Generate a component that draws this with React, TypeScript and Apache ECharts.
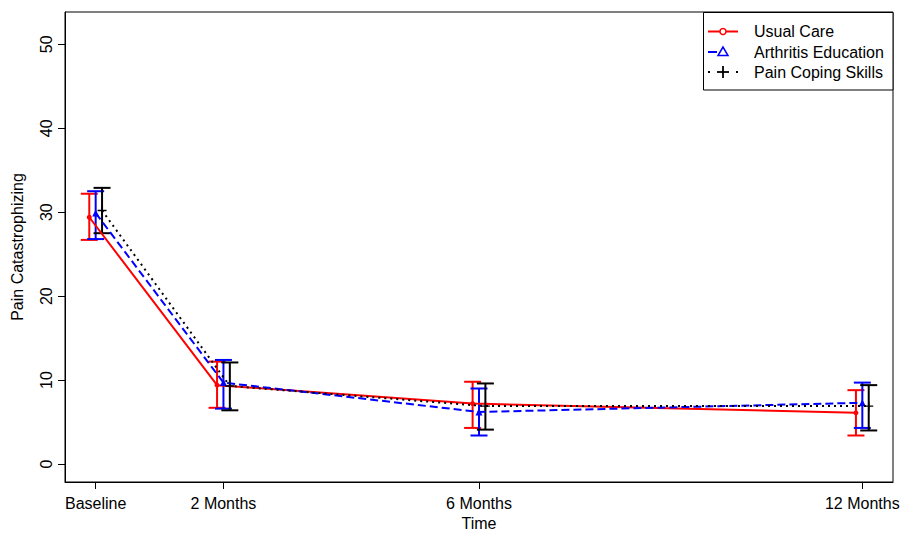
import React, { useEffect, useRef } from "react";
import * as echarts from "echarts";

// ---- data ----
const timeLabels = ["Baseline", "2 Months", "6 Months", "12 Months"];
const timeMonths = [0, 2, 6, 12];
const yTicks = [0, 10, 20, 30, 40, 50];

const groupNames = ["Usual Care", "Arthritis Education", "Pain Coping Skills"];

const usualMean = [29.4, 9.4, 7.2, 6.1];
const usualLow = [26.7, 6.7, 4.3, 3.4];
const usualHigh = [32.2, 12.2, 9.8, 8.8];

const eduMean = [29.9, 9.7, 6.2, 7.3];
const eduLow = [26.8, 6.6, 3.4, 4.3];
const eduHigh = [32.5, 12.4, 9.0, 9.7];

const copingMean = [30.2, 9.3, 6.9, 6.9];
const copingLow = [27.5, 6.4, 4.1, 4.0];
const copingHigh = [32.9, 12.1, 9.6, 9.4];

const FONT = "'Liberation Sans', Arial, sans-serif";
const FS = 16;

const PLUS_PATH =
  "path://M-1,-0.16H-0.16V-1H0.16V-0.16H1V0.16H0.16V1H-0.16V0.16H-1Z";

const groups = [
  {
    name: groupNames[0],
    mean: usualMean,
    low: usualLow,
    high: usualHigh,
    color: "#ff0000",
    dodge: -0.1,
    lineType: "solid" as any,
    symbol: "circle",
    symbolSize: 5,
  },
  {
    name: groupNames[1],
    mean: eduMean,
    low: eduLow,
    high: eduHigh,
    color: "#0000ff",
    dodge: 0,
    lineType: [8, 4] as any,
    symbol: "triangle",
    symbolSize: 7,
  },
  {
    name: groupNames[2],
    mean: copingMean,
    low: copingLow,
    high: copingHigh,
    color: "#000000",
    dodge: 0.1,
    lineType: [2, 4] as any,
    symbol: PLUS_PATH,
    symbolSize: 9,
  },
];

export default function App() {
  const ref = useRef<HTMLDivElement>(null);

  useEffect(() => {
    if (!ref.current) return;
    const chart = echarts.init(ref.current, null, { renderer: "svg" });

    const series: any[] = [];
    groups.forEach((g, gi) => {
      const color = g.color;
      series.push({
        type: "custom",
        name: g.name + " CI",
        coordinateSystem: "cartesian2d",
        z: 2 + gi,
        encode: { x: 0, y: [1, 2] },
        data: timeMonths.map((m, i) => [m + g.dodge, g.low[i], g.high[i]]),
        renderItem: (params: any, api: any) => {
          const x = api.value(0);
          const lo = api.coord([x, api.value(1)]);
          const hi = api.coord([x, api.value(2)]);
          const hw = 8.5;
          const style = { stroke: color, lineWidth: 2, fill: "none" };
          return {
            type: "group",
            children: [
              { type: "line", shape: { x1: lo[0], y1: lo[1], x2: hi[0], y2: hi[1] }, style },
              { type: "line", shape: { x1: lo[0] - hw, y1: lo[1], x2: lo[0] + hw, y2: lo[1] }, style },
              { type: "line", shape: { x1: hi[0] - hw, y1: hi[1], x2: hi[0] + hw, y2: hi[1] }, style },
            ],
          };
        },
      });
      series.push({
        type: "line",
        name: g.name,
        z: 5 + gi,
        data: timeMonths.map((m, i) => [m + g.dodge, g.mean[i]]),
        symbol: g.symbol,
        symbolSize: g.symbolSize,
        showSymbol: true,
        lineStyle: { color, width: 2, type: g.lineType },
        itemStyle: { color, borderWidth: 0 },
      });
    });

    // legend built from the groups
    const lx0 = 708;
    const lx1 = 738;
    const lmid = 723;
    const rows = [31.5, 52, 72];
    const legendChildren: any[] = [
      {
        type: "rect",
        shape: { x: 703.5, y: 12.5, width: 189.5, height: 77.5 },
        style: { fill: "#fff", stroke: "#000", lineWidth: 1 },
      },
    ];
    groups.forEach((g, i) => {
      const y = rows[i];
      const dash = i === 0 ? null : i === 1 ? [9, 30] : [2, 12];
      legendChildren.push({
        type: "line",
        shape: { x1: lx0, y1: y, x2: lx1, y2: y },
        style: { stroke: g.color, lineWidth: 2, lineDash: dash },
      });
      if (i === 0) {
        legendChildren.push({
          type: "circle",
          shape: { cx: lmid, cy: y, r: 3 },
          style: { fill: "#fff", stroke: g.color, lineWidth: 1.5 },
        });
      } else if (i === 1) {
        legendChildren.push({
          type: "polygon",
          shape: { points: [[lmid, y - 5], [lmid - 5, y + 3.5], [lmid + 5, y + 3.5]] },
          style: { fill: "#fff", stroke: g.color, lineWidth: 1.5 },
        });
      } else {
        legendChildren.push({
          type: "line",
          shape: { x1: lmid - 6, y1: y, x2: lmid + 6, y2: y },
          style: { stroke: g.color, lineWidth: 1.8 },
        });
        legendChildren.push({
          type: "line",
          shape: { x1: lmid, y1: y - 6, x2: lmid, y2: y + 6 },
          style: { stroke: g.color, lineWidth: 1.8 },
        });
      }
      legendChildren.push({
        type: "text",
        x: 754,
        y,
        style: {
          text: g.name,
          fill: "#000",
          font: `${FS}px ${FONT}`,
          verticalAlign: "middle",
          align: "left",
        },
      });
    });

    chart.setOption({
      animation: false,
      backgroundColor: "#fff",
      textStyle: { fontFamily: FONT },
      grid: {
        left: 65,
        right: 7,
        top: 12,
        bottom: 51,
        outerBoundsMode: "none",
        containLabel: false,
        show: true,
        borderColor: "#000",
        borderWidth: 1,
        backgroundColor: "transparent",
      },
      xAxis: {
        type: "value",
        min: -0.48,
        max: 12.48,
        name: "Time",
        nameLocation: "middle",
        nameGap: 33,
        nameTextStyle: { color: "#000", fontSize: FS, fontFamily: FONT },
        axisLine: { show: true, onZero: false, lineStyle: { color: "#000", width: 1 } },
        axisTick: {
          show: true,
          length: 7,
          customValues: timeMonths,
          lineStyle: { color: "#000", width: 1 },
        },
        axisLabel: {
          customValues: timeMonths,
          color: "#000",
          fontSize: FS,
          fontFamily: FONT,
          margin: 13,
          hideOverlap: false,
          formatter: (v: number) => timeLabels[timeMonths.indexOf(v)] ?? "",
        },
        splitLine: { show: false },
      },
      yAxis: {
        type: "value",
        min: -2.14,
        max: 53.85,
        name: "Pain Catastrophizing",
        nameLocation: "middle",
        nameGap: 40,
        nameRotate: 90,
        nameTextStyle: { color: "#000", fontSize: FS, fontFamily: FONT },
        axisLine: { show: true, onZero: false, lineStyle: { color: "#000", width: 1 } },
        axisTick: {
          show: true,
          length: 7,
          customValues: yTicks,
          lineStyle: { color: "#000", width: 1 },
        },
        axisLabel: {
          customValues: yTicks,
          rotate: 90,
          color: "#000",
          fontSize: FS,
          fontFamily: FONT,
          margin: 11,
        },
        splitLine: { show: false },
      },
      series,
      graphic: [{ type: "group", z: 100, children: legendChildren }],
    });

    return () => chart.dispose();
  }, []);

  return (
    <div
      ref={ref}
      style={{ position: "fixed", left: 0, top: 0, width: 900, height: 533, background: "#fff" }}
    />
  );
}
